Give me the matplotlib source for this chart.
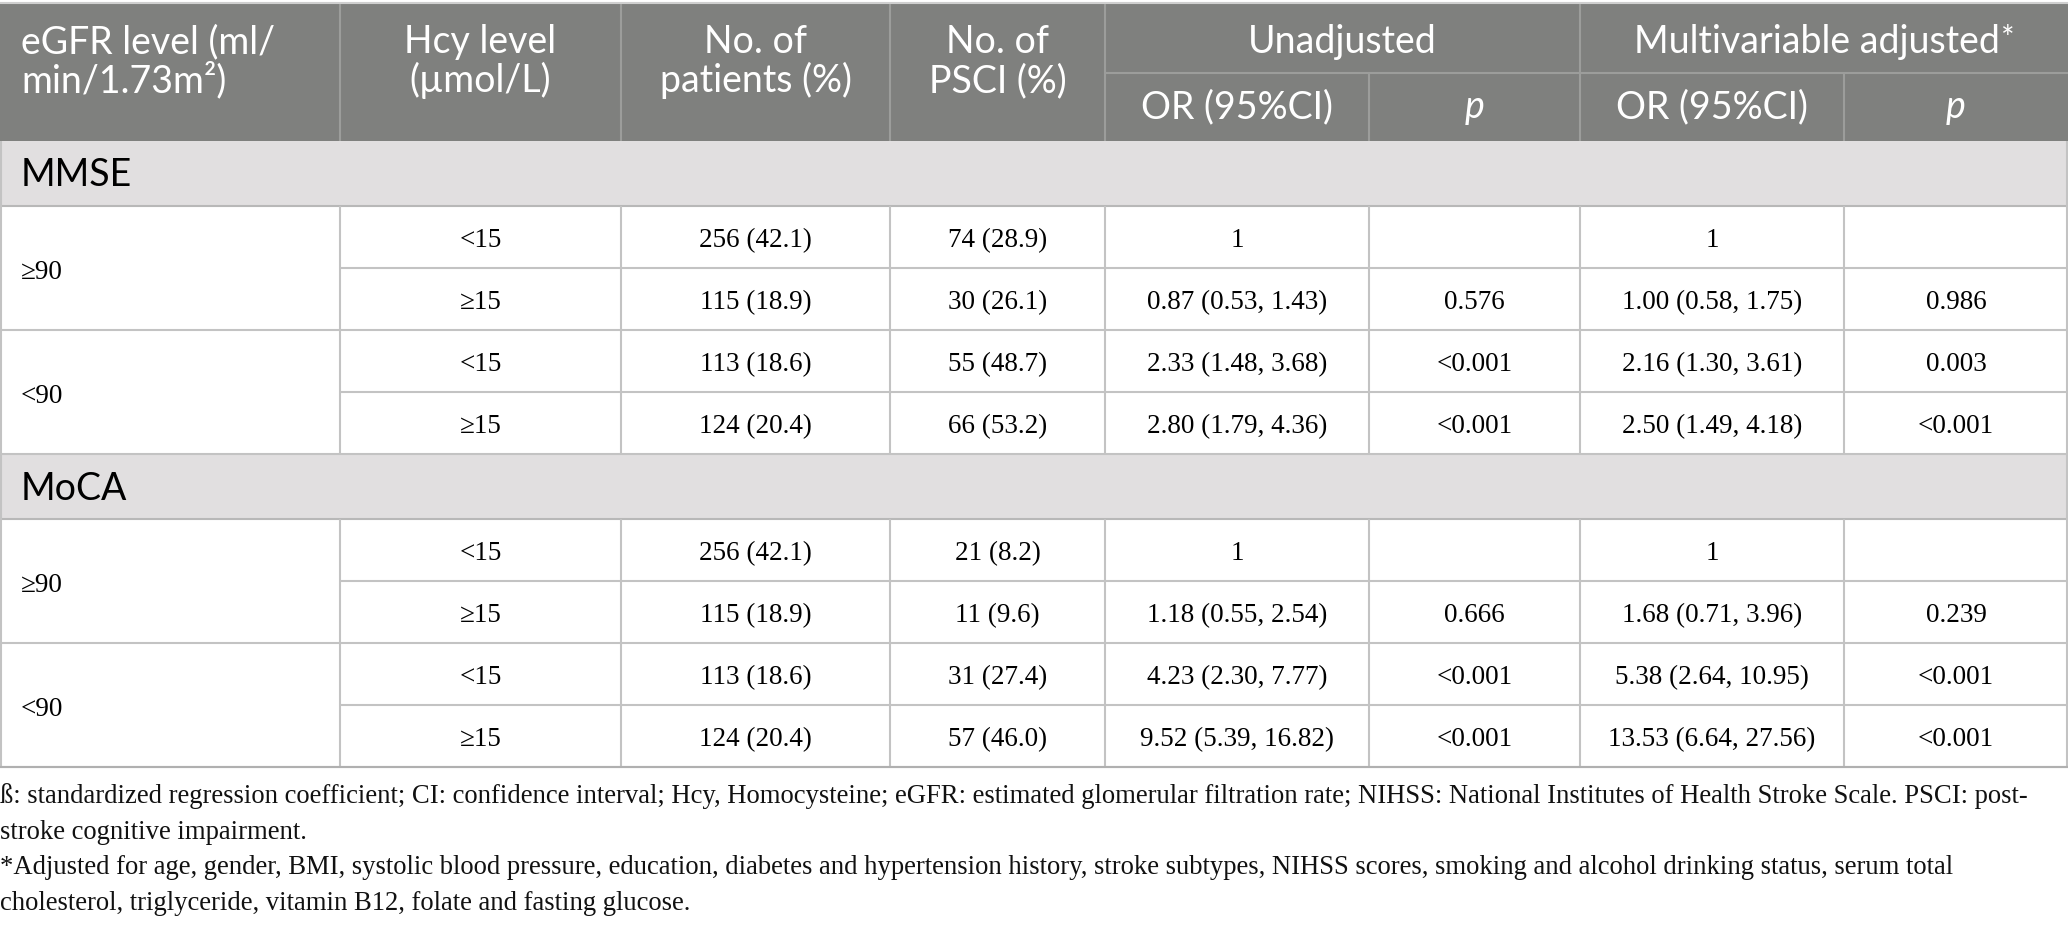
import matplotlib
matplotlib.use("Agg")
import matplotlib.pyplot as plt
from matplotlib.patches import Rectangle


# ==========================================================
# DATA
# ==========================================================

sections = ["MMSE", "MoCA"]
egfr_groups = ["≥90", "<90"]
hcy_levels = ["<15", "≥15"]

patients = ["256 (42.1)", "115 (18.9)", "113 (18.6)", "124 (20.4)"]

mmse_psci = ["74 (28.9)", "30 (26.1)", "55 (48.7)", "66 (53.2)"]
mmse_unadj_or = ["1", "0.87 (0.53, 1.43)", "2.33 (1.48, 3.68)", "2.80 (1.79, 4.36)"]
mmse_unadj_p = ["", "0.576", "<0.001", "<0.001"]
mmse_adj_or = ["1", "1.00 (0.58, 1.75)", "2.16 (1.30, 3.61)", "2.50 (1.49, 4.18)"]
mmse_adj_p = ["", "0.986", "0.003", "<0.001"]

moca_psci = ["21 (8.2)", "11 (9.6)", "31 (27.4)", "57 (46.0)"]
moca_unadj_or = ["1", "1.18 (0.55, 2.54)", "4.23 (2.30, 7.77)", "9.52 (5.39, 16.82)"]
moca_unadj_p = ["", "0.666", "<0.001", "<0.001"]
moca_adj_or = ["1", "1.68 (0.71, 3.96)", "5.38 (2.64, 10.95)", "13.53 (6.64, 27.56)"]
moca_adj_p = ["", "0.239", "<0.001", "<0.001"]

header_cols = [
    ["eGFR level (ml/", "min/1.73m²)"],
    ["Hcy level", "(µmol/L)"],
    ["No. of", "patients (%)"],
    ["No. of", "PSCI (%)"],
]
group_headers = ["Unadjusted", "Multivariable adjusted"]
sub_headers = ["OR (95%CI)", "p", "OR (95%CI)", "p"]

footnotes = [
    "ß: standardized regression coefficient; CI: confidence interval; Hcy, Homocysteine; eGFR: estimated "
    "glomerular filtration rate; NIHSS: National Institutes of Health Stroke Scale. PSCI: post-",
    "stroke cognitive impairment.",
    "*Adjusted for age, gender, BMI, systolic blood pressure, education, diabetes and hypertension history, "
    "stroke subtypes, NIHSS scores, smoking and alcohol drinking status, serum total",
    "cholesterol, triglyceride, vitamin B12, folate and fasting glucose.",
]

section_data = {
    "MMSE": [patients, mmse_psci, mmse_unadj_or, mmse_unadj_p, mmse_adj_or, mmse_adj_p],
    "MoCA": [patients, moca_psci, moca_unadj_or, moca_unadj_p, moca_adj_or, moca_adj_p],
}


# ==========================================================
# LAYOUT (pixels)
# ==========================================================

W, H = 2068, 930
COL_EDGES = [0, 340, 621, 890, 1105, 1369, 1580, 1844, 2068]

HEAD_TOP = 4
HEAD_MID = 73
HEAD_BOT = 141
BAND_H = 65
ROW_H = 62

HEAD_BG = "#7f807e"
HEAD_LINE = "#9c9d9b"
BAND_BG = "#e1dfe0"
GRID = "#c3c3c3"

SANS = ["Lato", "DejaVu Sans"]
SERIF = ["Liberation Serif", "DejaVu Serif"]
HEAD_FS = 27
BODY_FS = 19.5
NOTE_FS = 19.2
LW = 1.5


def col_center(i):
    return (COL_EDGES[i] + COL_EDGES[i + 1]) / 2


fig = plt.figure(figsize=(W / 100, H / 100), dpi=100)
ax = fig.add_axes([0, 0, 1, 1])
ax.set_xlim(0, W)
ax.set_ylim(H, 0)
ax.axis("off")

# ----------------------------------------------------------
# header
# ----------------------------------------------------------
ax.add_patch(Rectangle((0, HEAD_TOP), W, HEAD_BOT - HEAD_TOP,
                       facecolor=HEAD_BG, edgecolor="none"))
ax.hlines(HEAD_TOP - 1, 0, W, color="#cfcfcf", linewidth=LW)

for x in [340, 621, 890, 1105, 1580]:
    ax.vlines(x, HEAD_TOP, HEAD_BOT, color=HEAD_LINE, linewidth=LW)
for x in [1369, 1844]:
    ax.vlines(x, HEAD_MID, HEAD_BOT, color=HEAD_LINE, linewidth=LW)
ax.hlines(HEAD_MID, 1105, W, color=HEAD_LINE, linewidth=LW)

for i, lines in enumerate(header_cols):
    for k, line in enumerate(lines):
        y = 53 + k * 39
        if i == 0:
            ax.text(21, y, line, color="white", fontsize=HEAD_FS, family=SANS,
                    ha="left", va="baseline")
        else:
            ax.text(col_center(i), y, line, color="white", fontsize=HEAD_FS,
                    family=SANS, ha="center", va="baseline")

group_centers = [(1105 + 1580) / 2, (1580 + 2068) / 2]
for g, label in enumerate(group_headers):
    t = ax.text(group_centers[g] - (7 if g == 1 else 0), 53, label, color="white",
                fontsize=HEAD_FS, family=SANS, ha="center", va="baseline")
    if g == 1:
        ax.annotate("*", xy=(1, 1), xycoords=t, xytext=(1, -1),
                    textcoords="offset points", color="white",
                    fontsize=HEAD_FS * 0.85, family=SANS, ha="left", va="top")

for j, label in enumerate(sub_headers):
    ax.text(col_center(4 + j), 118, label, color="white", fontsize=HEAD_FS,
            family=SANS, style="italic" if label == "p" else "normal",
            ha="center", va="baseline")

# ----------------------------------------------------------
# body
# ----------------------------------------------------------
y0 = HEAD_BOT
for s in sections:
    ax.add_patch(Rectangle((0, y0), W, BAND_H, facecolor=BAND_BG, edgecolor="none"))
    ax.text(21, y0 + BAND_H / 2 + 13, s, color="black", fontsize=HEAD_FS,
            family=SANS, ha="left", va="baseline")
    ax.hlines(y0 + BAND_H, 0, W, color="#b8b8b8", linewidth=LW)
    y0 += BAND_H

    cols = section_data[s]
    for g, eg in enumerate(egfr_groups):
        gtop = y0
        ax.text(21, gtop + ROW_H + 11, eg, fontsize=BODY_FS, family=SERIF,
                ha="left", va="baseline")
        for h, hl in enumerate(hcy_levels):
            r = g * 2 + h
            ytxt = y0 + ROW_H / 2 + 10
            ax.text(col_center(1), ytxt, hl, fontsize=BODY_FS, family=SERIF,
                    ha="center", va="baseline")
            for c, values in enumerate(cols):
                ax.text(col_center(2 + c), ytxt, values[r], fontsize=BODY_FS,
                        family=SERIF, ha="center", va="baseline")
            y0 += ROW_H
            if h == 0:
                ax.hlines(y0, 340, W, color=GRID, linewidth=LW)
            else:
                ax.hlines(y0, 0, W, color=GRID, linewidth=LW)
        for x in COL_EDGES[1:-1]:
            ax.vlines(x, gtop, y0, color=GRID, linewidth=LW)

ax.vlines([1, W - 1], HEAD_BOT, y0, color=GRID, linewidth=LW)
ax.hlines(y0, 0, W, color="#b0b0b0", linewidth=LW)

# ----------------------------------------------------------
# footnotes
# ----------------------------------------------------------
for k, line in enumerate(footnotes):
    ax.text(0, 803 + k * 35.5, line, fontsize=NOTE_FS, family=SERIF,
            ha="left", va="baseline", color="#111111")

fig.savefig("out.png", dpi=100)
